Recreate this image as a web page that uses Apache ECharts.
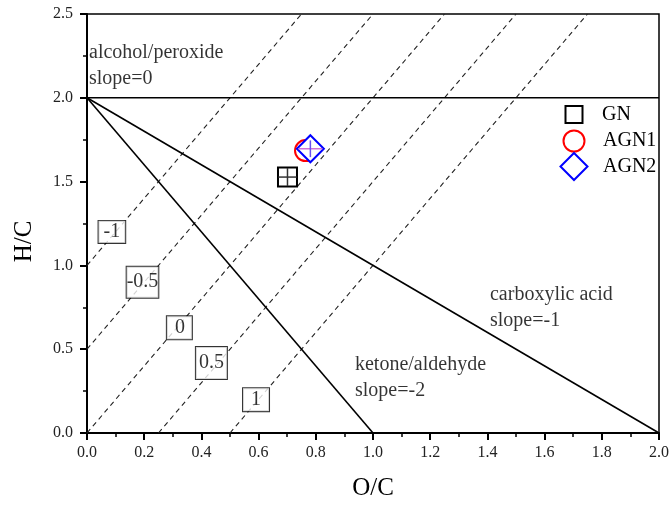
<!DOCTYPE html>
<html><head><meta charset="utf-8">
<script src="https://cdn.jsdelivr.net/npm/echarts@6/dist/echarts.min.js"></script>
<style>html,body{margin:0;padding:0;background:#fff}#c{width:672px;height:506px}</style>
</head><body><div id="c"></div>
<script>
// ---- data ----
const sampleNames = ['GN', 'AGN1', 'AGN2'];
const ocValues = [0.701, 0.764, 0.781];
const hcValues = [1.527, 1.685, 1.696];
const ocErrors = [0.032, 0, 0.042];
const hcErrors = [0.054, 0, 0.05];

const oscLabels = ['-1', '-0.5', '0', '0.5', '1'];
const oscLabelOC = [0.087, 0.194, 0.323, 0.435, 0.591];
const oscLabelHC = [1.20, 0.90, 0.628, 0.417, 0.199];
const oscLineStart = [[0, 1], [0, 0.5], [0, 0], [0.25, 0], [0.5, 0]];
const oscLineEnd = [[0.75, 2.5], [1.0, 2.5], [1.25, 2.5], [1.5, 2.5], [1.75, 2.5]];

const refLines = [[[0, 2], [2, 2]], [[0, 2], [1, 0]], [[0, 2], [2, 0]]];
const regionTexts = ['alcohol/peroxide\nslope=0', 'ketone/aldehyde\nslope=-2', 'carboxylic acid\nslope=-1'];
const regionOC = [0.007, 0.937, 1.409];
const regionHC = [2.193, 0.327, 0.747];

const xTickLabels = ['0.0','0.2','0.4','0.6','0.8','1.0','1.2','1.4','1.6','1.8','2.0'];
const yTickLabels = ['0.0','0.5','1.0','1.5','2.0','2.5'];

// ---- styles ----
const FONT = "'Liberation Serif', 'Times New Roman', serif";
const oscBoxPadding = [[1, 5, 1, 5], [5, 0, 6, 0], [2, 7, 1, 8], [6, 3, 6, 3], [2, 8, 1, 8]];
const markerStyles = [
  { symbol: 'rect', size: 19, color: '#000' },
  { symbol: 'circle', size: 21, color: '#ff0000' },
  { symbol: 'diamond', size: 27, color: '#0000ff' }
];
const errColors = [['#333', '#333'], ['#ff0000', '#ff0000'], ['#d070d8', '#6a50f0']];

const series = [];

refLines.forEach(function (seg) {
  series.push({
    type: 'line', data: seg, symbol: 'none', silent: true, z: 2,
    lineStyle: { color: '#000', width: 1.6 }
  });
});
oscLineStart.forEach(function (p, i) {
  series.push({
    type: 'line', data: [p, oscLineEnd[i]], symbol: 'none', silent: true, z: 1,
    lineStyle: { color: '#222', width: 1.1, type: [5, 4] }
  });
});
series.push({
  type: 'scatter', silent: true, zlevel: 1, z: 6, symbolSize: 0,
  itemStyle: { color: 'transparent' },
  data: oscLabels.map(function (t, i) {
    return { value: [oscLabelOC[i], oscLabelHC[i]], name: t, label: { padding: oscBoxPadding[i] } };
  }),
  label: {
    show: true, position: 'inside', formatter: '{b}', align: 'center', verticalAlign: 'middle',
    fontFamily: FONT, fontSize: 20, lineHeight: 20, color: '#000', backgroundColor: '#fff',
    borderColor: '#000', borderWidth: 1
  }
});
series.push({
  type: 'scatter', silent: true, z: 6, symbolSize: 0,
  itemStyle: { color: 'transparent' },
  data: regionTexts.map(function (t, i) { return { value: [regionOC[i], regionHC[i]], name: t }; }),
  label: {
    show: true, position: 'right', distance: 0, formatter: '{b}', align: 'left', verticalAlign: 'middle',
    fontFamily: FONT, fontSize: 20, lineHeight: 26, color: '#000'
  }
});
sampleNames.forEach(function (n, i) {
  const ms = markerStyles[i];
  series.push({
    type: 'scatter', name: n, z: 10 + i * 2,
    symbol: ms.symbol, symbolSize: ms.size,
    itemStyle: { color: '#fff', borderColor: ms.color, borderWidth: 2, opacity: 1 },
    data: [[ocValues[i], hcValues[i]]]
  });
  series.push({
    type: 'custom', silent: true, z: 11 + i * 2,
    data: [[ocValues[i], hcValues[i], ocErrors[i], hcErrors[i]]],
    renderItem: function (params, api) {
      const x = api.value(0), y = api.value(1), xe = api.value(2), ye = api.value(3);
      const l = api.coord([x - xe, y]), r = api.coord([x + xe, y]);
      const b = api.coord([x, y - ye]), t = api.coord([x, y + ye]);
      return {
        type: 'group', children: [
          { type: 'line', shape: { x1: l[0], y1: l[1], x2: r[0], y2: r[1] }, style: { stroke: errColors[i][0], lineWidth: 1.5 } },
          { type: 'line', shape: { x1: b[0], y1: b[1], x2: t[0], y2: t[1] }, style: { stroke: errColors[i][1], lineWidth: 1.5 } }
        ]
      };
    }
  });
});

const legendBase = function (name, ms, centerX, centerY, textStart) {
  return {
    data: [name], orient: 'vertical', padding: 0,
    left: centerX - ms.size / 2 + (ms.symbol === 'rect' ? 1 : 0), top: centerY - ms.size / 2,
    itemWidth: ms.size - (ms.symbol === 'rect' ? 2 : 0), itemHeight: ms.size - (ms.symbol === 'rect' ? 2 : 0),
    icon: ms.symbol, selectedMode: false,
    itemStyle: { color: '#fff', borderColor: ms.color, borderWidth: 2 },
    textStyle: { fontFamily: FONT, fontSize: 20, color: '#000',
      padding: [0, 0, 0, textStart - (centerX + ms.size / 2 + 5)] }
  };
};

const chart = echarts.init(document.getElementById('c'), null, { renderer: 'canvas' });
chart.setOption({
  animation: false,
  backgroundColor: '#fff',
  grid: { left: 87, right: 13, top: 14, bottom: 72, show: true, borderColor: '#000', borderWidth: 1.5, backgroundColor: 'transparent' },
  legend: [
    legendBase(sampleNames[0], markerStyles[0], 573, 114, 602),
    legendBase(sampleNames[1], markerStyles[1], 573, 140, 602),
    legendBase(sampleNames[2], markerStyles[2], 573, 165.5, 602)
  ],
  xAxis: {
    type: 'value', min: 0, max: 2, interval: 0.2,
    name: 'O/C', nameLocation: 'middle', nameGap: 43,
    nameTextStyle: { fontFamily: FONT, fontSize: 25, color: '#000' },
    axisLine: { show: true, onZero: false, lineStyle: { color: '#000', width: 2 } },
    axisTick: { show: true, inside: false, length: 7, lineStyle: { color: '#000', width: 2 } },
    minorTick: { show: true, splitNumber: 2, length: 4, lineStyle: { color: '#000', width: 1.5 } },
    splitLine: { show: false },
    axisLabel: { margin: 12, fontFamily: FONT, fontSize: 16, color: '#222',
      formatter: function (v) { return xTickLabels[Math.round(v / 0.2)]; } }
  },
  yAxis: {
    type: 'value', min: 0, max: 2.5, interval: 0.5,
    name: 'H/C', nameLocation: 'middle', nameGap: 50, nameRotate: 90,
    nameTextStyle: { fontFamily: FONT, fontSize: 25, color: '#000', padding: [0, 36, 0, 0] },
    axisLine: { show: true, onZero: false, lineStyle: { color: '#000', width: 2 } },
    axisTick: { show: true, inside: false, length: 7, lineStyle: { color: '#000', width: 2 } },
    minorTick: { show: true, splitNumber: 2, length: 4, lineStyle: { color: '#000', width: 1.5 } },
    splitLine: { show: false },
    axisLabel: { margin: 14, fontFamily: FONT, fontSize: 16, color: '#222',
      formatter: function (v) { return yTickLabels[Math.round(v / 0.5)]; } }
  },
  series: series
});
</script>
</body></html>
